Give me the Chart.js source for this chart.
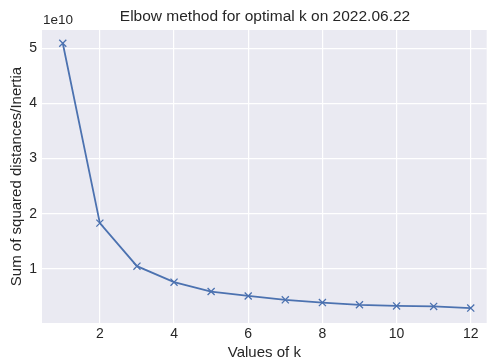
<!DOCTYPE html>
<html>
<head>
<meta charset="utf-8">
<script src="https://cdn.jsdelivr.net/npm/chart.js@4/dist/chart.umd.min.js"></script>
<style>
  html, body { margin: 0; padding: 0; background: #fff; overflow: hidden; }
  #wrap { width: 493px; height: 362px; position: relative; }
</style>
</head>
<body>
<div id="wrap"><canvas id="elbow"></canvas></div>
<script>
// k values and inertia (in units of 1e10)
var kValues = [1, 2, 3, 4, 5, 6, 7, 8, 9, 10, 11, 12];
var inertia = [5.09, 1.83, 1.05, 0.76, 0.59, 0.51, 0.44, 0.39, 0.35, 0.33, 0.32, 0.29];
var xTicks = [2, 4, 6, 8, 10, 12];
var yTicks = [1, 2, 3, 4, 5];

var textColor = '#262626';
var fontFamily = '"Liberation Sans", Arial, sans-serif';

// title and offset text drawn above the plot area
var header = {
    id: 'header',
    afterDraw: function(chart){
        var c = chart.ctx;
        var area = chart.chartArea;
        c.save();
        c.fillStyle = textColor;
        c.textBaseline = 'middle';
        c.font = '15.5px ' + fontFamily;
        c.textAlign = 'center';
        c.fillText('Elbow method for optimal k on 2022.06.22', 265, 17);
        c.font = '13.5px ' + fontFamily;
        c.textAlign = 'left';
        c.fillText('1e10', area.left + 1, 20);
        c.restore();
    }
};

var points = kValues.map(function(k, i){
    return {x: k, y: inertia[i]};
});

var ctx = document.getElementById('elbow').getContext('2d');
var myChart = new Chart(ctx, {
    type: 'line',
    data: {
        datasets: [{
            data: points,
            borderColor: '#4c72b0',
            backgroundColor: '#4c72b0',
            borderWidth: 1.8,
            pointStyle: 'crossRot',
            pointRadius: 5,
            pointBorderWidth: 1.3,
            tension: 0
        }]
    },
    options: {
        responsive: true,
        maintainAspectRatio: false,
        animation: false,
        layout: { padding: { top: 30, right: 0, left: 0, bottom: 0 } },
        plugins: {
            legend: { display: false },
            tooltip: { enabled: false }
        },
        scales: {
            x: {
                type: 'linear',
                min: 0.44,
                max: 12.43,
                afterBuildTicks: function(axis){
                    axis.ticks = xTicks.map(function(v){ return {value: v}; });
                },
                afterFit: function(axis){
                    axis.height = 39;
                    axis.paddingLeft = 0;
                    axis.paddingRight = 0;
                },
                grid: { color: '#ffffff', lineWidth: 1.2, drawTicks: false },
                border: { display: false },
                ticks: { color: textColor, font: { size: 14, family: fontFamily }, padding: 3, maxRotation: 0 },
                title: { display: true, text: 'Values of k', color: textColor, font: { size: 15, family: fontFamily }, padding: { top: 1, bottom: 0 } }
            },
            y: {
                min: 0.02,
                max: 5.33,
                afterBuildTicks: function(axis){
                    axis.ticks = yTicks.map(function(v){ return {value: v}; });
                },
                afterFit: function(axis){
                    axis.width = 42;
                    axis.paddingTop = 0;
                    axis.paddingBottom = 0;
                },
                grid: { color: '#ffffff', lineWidth: 1.2, drawTicks: false },
                border: { display: false },
                ticks: { color: textColor, font: { size: 14, family: fontFamily }, padding: 5 },
                title: { display: true, text: 'Sum of squared distances/Inertia', color: textColor, font: { size: 15, family: fontFamily }, padding: { top: 8, bottom: 2 } }
            }
        }
    },
    plugins: [header, {
        id: 'plotBg',
        beforeDraw: function(chart){
            var a = chart.chartArea;
            chart.ctx.save();
            chart.ctx.fillStyle = '#eaeaf2';
            chart.ctx.fillRect(a.left, a.top, a.right - a.left, a.bottom - a.top);
            chart.ctx.restore();
        }
    }]
});
</script>
</body>
</html>
